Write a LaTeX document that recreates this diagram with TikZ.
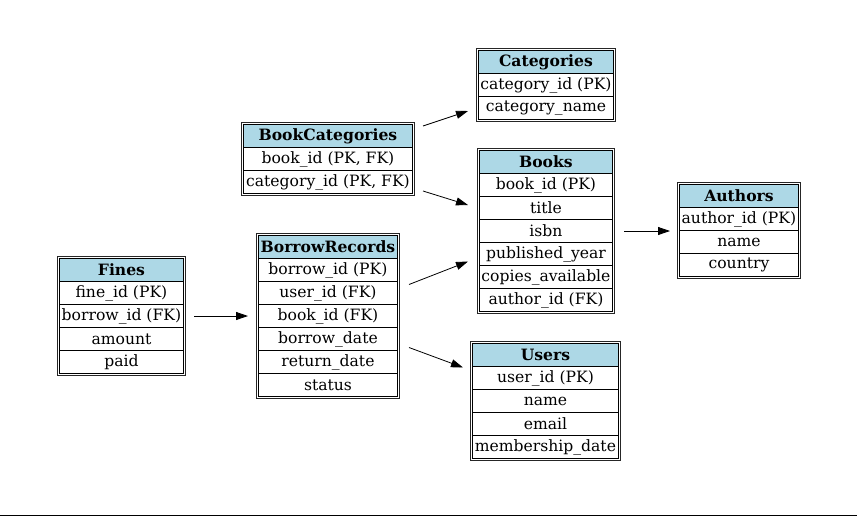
\documentclass[tikz,border=0pt]{standalone}
\usepackage{fontspec}
\setmainfont{DejaVu Serif}
\usetikzlibrary{arrows.meta,calc}
\definecolor{hdr}{HTML}{ADD8E6}
\tikzset{
  tblouter/.style={draw=black!85, line width=1pt, inner sep=0pt, anchor=north west},
  tblcell/.style={draw=black, line width=0.9pt, inner sep=0pt, anchor=north west, minimum height=23pt, font=\fontsize{15.6}{17}\selectfont},
  tblhead/.style={tblcell, fill=hdr, font=\fontsize{15.6}{17}\selectfont\bfseries},
  fk/.style={-{Triangle[length=12pt,width=8pt]}, line width=0.8pt}
}
\newcommand{\erdtable}[7]{%
  \node[tblouter, minimum width=#4pt, minimum height={(#5+1)*23pt+4pt}] (#1) at (#2,#3) {};
  \node[tblhead, minimum width={#4pt-4pt}] (#1-h) at (#2+2,#3+2) {#6};
  \foreach \t [count=\i] in {#7} {
    \node[tblcell, minimum width={#4pt-4pt}] (#1-\i) at (#2+2,{#3+2+23*\i}) {\t};
  }
}
\begin{document}
\begin{tikzpicture}[x=1pt,y=-1pt]
\useasboundingbox (0,0) rectangle (857,517);
\erdtable{cat}{476}{48}{139}{2}{Categories}{category\_id (PK),category\_name}
\erdtable{bc}{241}{122}{173}{2}{BookCategories}{{book\_id (PK, FK)},{category\_id (PK, FK)}}
\erdtable{books}{477}{148}{137}{6}{Books}{book\_id (PK),title,isbn,published\_year,copies\_available,author\_id (FK)}
\erdtable{authors}{677}{182}{123}{3}{Authors}{author\_id (PK),name,country}
\erdtable{fines}{57}{256}{128}{4}{Fines}{fine\_id (PK),borrow\_id (FK),amount,paid}
\erdtable{br}{256}{233}{143}{6}{BorrowRecords}{borrow\_id (PK),user\_id (FK),book\_id (FK),borrow\_date,return\_date,status}
\erdtable{users}{470}{341}{150}{4}{Users}{user\_id (PK),name,email,membership\_date}
\draw[fk] ($(bc.north east)+(8,4)$) -- ($(cat.south west)+(-8,-11)$);
\draw[fk] ($(bc.south east)+(8,-5)$) -- ($(books.north west)+(-9,57)$);
\draw[fk] ($(books.east)+(9,0)$) -- ($(authors.west |- books.east)+(-7,0)$);
\draw[fk] ($(fines.east)+(8,0)$) -- ($(br.west)+(-8,0)$);
\draw[fk] ($(br.east)+(9,-31.5)$) -- ($(books.west)+(-9,30.5)$);
\draw[fk] ($(br.east)+(9,31.5)$) -- ($(users.west)+(-7,-33.5)$);
\draw[line width=1.2pt] (0,515.5) -- (857,515.5);
\end{tikzpicture}
\end{document}
